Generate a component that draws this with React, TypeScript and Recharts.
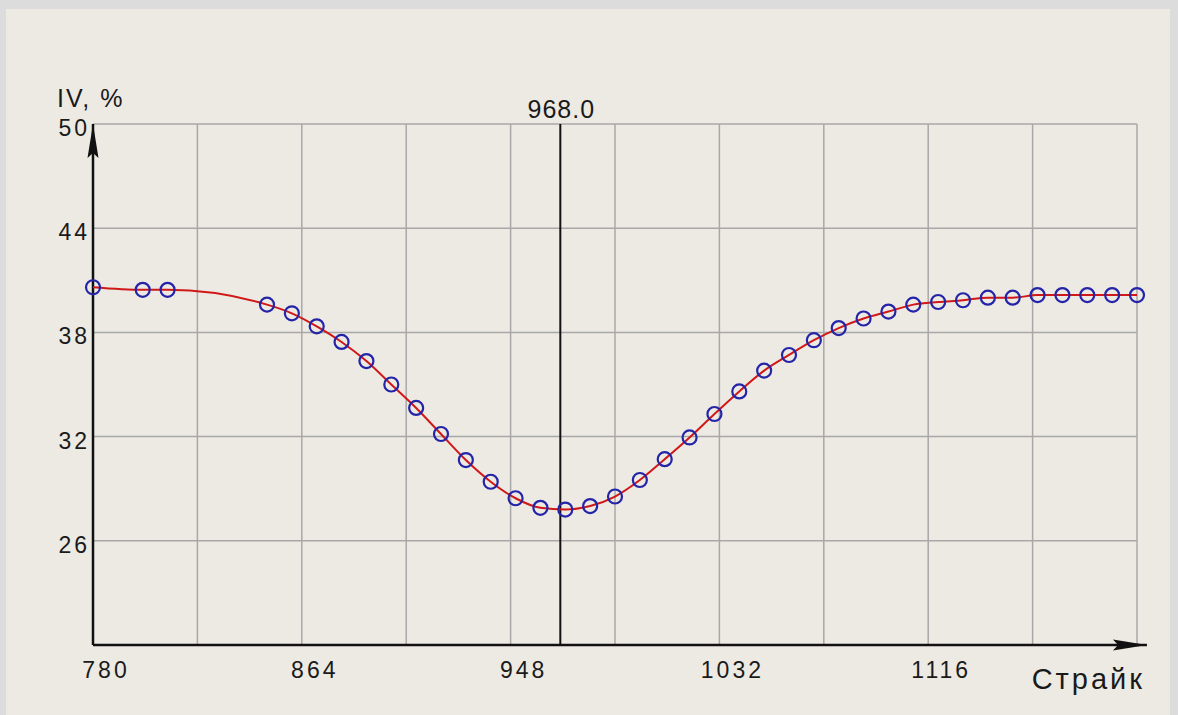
import { LineChart, Line, XAxis, YAxis, CartesianGrid, ReferenceLine, Label } from 'recharts'

const strikes = [
  780, 800, 810, 850, 860, 870, 880, 890, 900, 910, 920, 930, 940, 950, 960, 970, 980, 990, 1000,
  1010, 1020, 1030, 1040, 1050, 1060, 1070, 1080, 1090, 1100, 1110, 1120, 1130, 1140, 1150, 1160,
  1170, 1180, 1190, 1200,
]
const ivValues = [
  40.6, 40.45, 40.45, 39.6, 39.1, 38.35, 37.45, 36.35, 35.0, 33.65, 32.15, 30.65, 29.4, 28.45, 27.9,
  27.8, 28.0, 28.55, 29.5, 30.7, 31.95, 33.3, 34.6, 35.8, 36.7, 37.55, 38.25, 38.8, 39.2, 39.6,
  39.75, 39.85, 40.0, 40.0, 40.15, 40.15, 40.15, 40.15, 40.15,
]
const xGridTicks = [780, 822, 864, 906, 948, 990, 1032, 1074, 1116, 1158, 1200]
const xLabelTicks = [780, 864, 948, 1032, 1116]
const yTicks = [20, 26, 32, 38, 44, 50]
const yLabelTicks = [26, 32, 38, 44, 50]
const markedStrike = 968

const data = strikes.map((strike, i) => ({ strike, iv: ivValues[i] }))

const FONT = "'Liberation Sans', Arial, sans-serif"

const XTick = ({ x, y, payload }: any) => {
  if (!xLabelTicks.includes(payload.value)) return null
  return (
    <text x={x + 13} y={y + 25} textAnchor="middle" fontFamily={FONT} fontSize={23} letterSpacing={3} fill="#1a1a1a">
      {payload.value}
    </text>
  )
}

const YTick = ({ x, y, payload }: any) => {
  if (!yLabelTicks.includes(payload.value)) return null
  return (
    <text x={x + 5} y={y + 12} textAnchor="end" fontFamily={FONT} fontSize={23} letterSpacing={3} fill="#1a1a1a">
      {payload.value}
    </text>
  )
}

// axis line with an arrowhead at its far end
const ArrowLine = ({ x1, y1, x2, y2 }: any) => {
  const dx = x2 - x1
  const dy = y2 - y1
  const len = Math.sqrt(dx * dx + dy * dy) || 1
  const ux = dx / len
  const uy = dy / len
  const hl = 34
  const hw = 5.5
  const bx = x2 - ux * hl
  const by = y2 - uy * hl
  return (
    <g>
      <line x1={x1} y1={y1} x2={x2} y2={y2} stroke="#111" strokeWidth={2.5} />
      <polygon
        points={`${x2},${y2} ${bx - uy * hw},${by + ux * hw} ${x2 - ux * hl * 0.85},${y2 - uy * hl * 0.85} ${bx + uy * hw},${by - ux * hw}`}
        fill="#111"
      />
    </g>
  )
}

export default function App() {
  return (
    <div style={{ position: 'fixed', left: 0, top: 0, width: 1178, height: 715, background: '#dcdcdc' }}>
      <div style={{ position: 'absolute', left: 6, top: 9, width: 1164, height: 706, background: '#edeae4' }} />
      <div style={{ position: 'absolute', left: 0, top: 0 }}>
        <LineChart width={1178} height={715} data={data} margin={{ top: 124, right: 41, bottom: 0, left: 0 }}>
          <CartesianGrid stroke="#a8a8a8" strokeWidth={1.5} />
          <XAxis
            dataKey="strike"
            type="number"
            domain={[780, 1200]}
            ticks={xGridTicks}
            height={70}
            axisLine={false}
            tickLine={false}
            tick={<XTick />}
            interval={0}
          >
            <Label
              content={({ viewBox }: any) => (
                <text
                  x={viewBox.x + viewBox.width + 8}
                  y={viewBox.y + 44}
                  textAnchor="end"
                  fontFamily={FONT}
                  fontSize={29}
                  letterSpacing={3}
                  fill="#1a1a1a"
                >
                  Страйк
                </text>
              )}
            />
          </XAxis>
          <YAxis
            type="number"
            domain={[20, 50]}
            ticks={yTicks}
            width={93}
            axisLine={false}
            tickLine={false}
            tick={<YTick />}
            interval={0}
          >
            <Label
              content={({ viewBox }: any) => (
                <text x={viewBox.x + 57} y={viewBox.y - 17} fontFamily={FONT} fontSize={25} letterSpacing={2} fill="#1a1a1a">
                  IV, %
                </text>
              )}
            />
          </YAxis>
          <ReferenceLine x={markedStrike} stroke="#111" strokeWidth={2}>
            <Label
              content={({ viewBox }: any) => (
                <text x={viewBox.x + 1} y={viewBox.y - 6} textAnchor="middle" fontFamily={FONT} fontSize={25} letterSpacing={1} fill="#1a1a1a">
                  {markedStrike.toFixed(1)}
                </text>
              )}
            />
          </ReferenceLine>
          <ReferenceLine
            segment={[{ x: 780, y: 20 }, { x: 1204, y: 20 }]}
            ifOverflow="visible"
            shape={<ArrowLine />}
          />
          <ReferenceLine
            segment={[{ x: 780, y: 20 }, { x: 780, y: 50 }]}
            ifOverflow="visible"
            shape={<ArrowLine />}
          />
          <Line
            dataKey="iv"
            type="monotone"
            stroke="#d01818"
            strokeWidth={2}
            dot={{ r: 7, stroke: '#2424a8', strokeWidth: 2.2, fill: 'none' }}
            isAnimationActive={false}
          />
        </LineChart>
      </div>
    </div>
  )
}
